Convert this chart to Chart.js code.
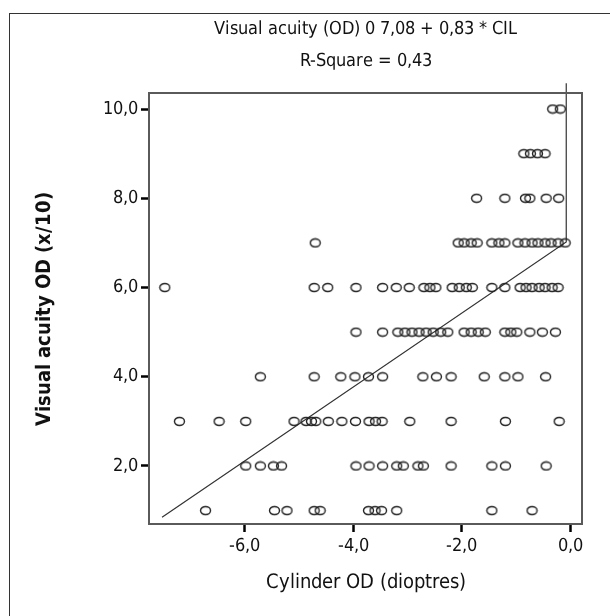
<!DOCTYPE html>
<html>
<head>
<meta charset="utf-8">
<script src="https://cdn.jsdelivr.net/npm/chart.js@4.4.1/dist/chart.umd.min.js"></script>
<style>
  @font-face {
    font-family: "CondSans";
    font-weight: 400;
    src: local("Liberation Sans Narrow"), local("LiberationSansNarrow"), local("LiberationSansNarrow-Regular"),
         local("DejaVu Sans Condensed"), local("DejaVuSansCondensed");
  }
  @font-face {
    font-family: "CondSans";
    font-weight: 700;
    src: local("Liberation Sans Narrow Bold"), local("LiberationSansNarrow-Bold"),
         local("DejaVu Sans Condensed Bold"), local("DejaVuSansCondensed-Bold");
  }
  html, body { margin: 0; padding: 0; background: #fff; }
  #wrap { position: relative; width: 610px; height: 616px; }
  #probe { position: absolute; left: -999px; font-family: CondSans; }
</style>
</head>
<body>
<div id="wrap"><canvas id="myChart" width="610" height="616"></canvas></div>
<span id="probe">a<b>b</b></span>
<script>
// visual acuity levels (x/10) and the cylinder values read for each level
const levels = [1, 2, 3, 4, 5, 6, 7, 8, 9, 10];
const cyl1 = [-6.72, -5.45, -5.22, -4.72, -4.61, -3.72, -3.6, -3.48, -3.2, -1.45, -0.71];
const cyl2 = [-5.98, -5.71, -5.47, -5.32, -3.95, -3.71, -3.46, -3.2, -3.08, -2.81, -2.71, -2.2, -1.45, -1.2, -0.45];
const cyl3 = [-7.2, -6.47, -5.98, -5.09, -4.87, -4.77, -4.69, -4.46, -4.21, -3.96, -3.71, -3.59, -3.47, -2.96, -2.2, -1.2, -0.21];
const cyl4 = [-5.71, -4.72, -4.23, -3.97, -3.72, -3.46, -2.72, -2.47, -2.2, -1.59, -1.21, -0.97, -0.46];
const cyl5 = [-3.95, -3.46, -3.18, -3.05, -2.92, -2.79, -2.66, -2.53, -2.39, -2.26, -1.96, -1.83, -1.7, -1.57, -1.21, -1.1, -0.99, -0.75, -0.52, -0.28];
const cyl6 = [-7.47, -4.72, -4.47, -3.95, -3.46, -3.21, -2.97, -2.7, -2.59, -2.48, -2.18, -2.05, -1.92, -1.81, -1.45, -1.21, -0.93, -0.82, -0.71, -0.58, -0.47, -0.34, -0.23];
const cyl7 = [-4.7, -2.07, -1.96, -1.83, -1.72, -1.45, -1.32, -1.21, -0.97, -0.84, -0.71, -0.6, -0.47, -0.36, -0.23, -0.1];
const cyl8 = [-1.73, -1.21, -0.83, -0.75, -0.45, -0.22];
const cyl9 = [-0.86, -0.74, -0.61, -0.47];
const cyl10 = [-0.33, -0.19];
const cylByLevel = [cyl1, cyl2, cyl3, cyl4, cyl5, cyl6, cyl7, cyl8, cyl9, cyl10];

// fit line as drawn (with the label leader going up at the right)
const fitX = [-7.52, -0.08, -0.08];
const fitY = [0.85, 7.02, 10.58];

const xTicks = [-6, -4, -2, 0];
const yTicks = [2, 4, 6, 8, 10];

const titleLines = ["Visual acuity (OD) 0 7,08 + 0,83 * CIL", "R-Square = 0,43"];

const FONT = "CondSans, 'Liberation Sans', sans-serif";
Chart.defaults.font.family = FONT;
Chart.defaults.color = "#111";

const points = [];
cylByLevel.forEach((arr, i) => {
  arr.forEach((x) => points.push({ x: x, y: levels[i] }));
});
const fitPoints = fitX.map((x, i) => ({ x: x, y: fitY[i] }));

// open ellipse marker like the SPSS output
const dot = document.createElement("canvas");
dot.width = 13;
dot.height = 11;
const g = dot.getContext("2d");
g.strokeStyle = "#222";
g.lineWidth = 1.4;
g.beginPath();
g.ellipse(6.5, 5.5, 5, 4, 0, 0, Math.PI * 2);
g.stroke();

const comma = (v) => v.toFixed(1).replace(".", ",");

const framePlugin = {
  id: "frame",
  beforeDraw(chart) {
    const ctx = chart.ctx;
    ctx.save();
    ctx.strokeStyle = "#333";
    ctx.lineWidth = 1;
    ctx.strokeRect(9.5, 13.5, 640, 640);
    ctx.restore();
  },
  afterDatasetsDraw(chart) {
    const { ctx, chartArea: a } = chart;
    ctx.save();
    ctx.strokeStyle = "#5a5a5a";
    ctx.lineWidth = 2;
    ctx.beginPath();
    ctx.moveTo(a.left, a.top);
    ctx.lineTo(a.right, a.top);
    ctx.lineTo(a.right, a.bottom);
    ctx.stroke();
    ctx.restore();
  },
  afterDraw(chart) {
    const { ctx, chartArea: a } = chart;
    ctx.save();
    ctx.fillStyle = "#111";
    ctx.font = "18px " + FONT;
    ctx.textAlign = "center";
    ctx.textBaseline = "middle";
    const cx = (a.left + a.right) / 2;
    ctx.fillText(titleLines[0], cx, 29);
    ctx.fillText(titleLines[1], cx, 61);
    ctx.restore();
  },
};

const config = {
  type: "scatter",
  data: {
    datasets: [
      {
        data: points,
        pointStyle: dot,
        pointRadius: 5,
        pointHoverRadius: 5,
      },
      {
        type: "line",
        data: fitPoints,
        borderColor: "#333",
        borderWidth: 1.2,
        pointRadius: 0,
        fill: false,
        clip: false,
      },
    ],
  },
  options: {
    responsive: false,
    animation: false,
    layout: {
      padding: { left: 20, right: 28, top: 93, bottom: 12 },
    },
    plugins: {
      legend: { display: false },
      tooltip: { enabled: false },
      title: { display: false },
    },
    scales: {
      x: {
        type: "linear",
        min: -7.76,
        max: 0.21,
        afterFit(scale) {
          scale.height = 80;
        },
        afterBuildTicks(scale) {
          scale.ticks = xTicks.map((v) => ({ value: v }));
        },
        border: { display: true, color: "#5a5a5a", width: 2 },
        grid: {
          drawOnChartArea: false,
          drawTicks: true,
          tickLength: 8,
          tickWidth: 2.5,
          tickColor: "#000",
        },
        ticks: {
          padding: 4,
          font: { size: 18 },
          callback: (v) => comma(v),
        },
        title: {
          display: true,
          text: "Cylinder OD (dioptres)",
          font: { size: 20 },
          padding: { top: 0, bottom: 9 },
        },
      },
      y: {
        type: "linear",
        min: 0.7,
        max: 10.36,
        afterFit(scale) {
          scale.width = 129;
        },
        afterBuildTicks(scale) {
          scale.ticks = yTicks.map((v) => ({ value: v }));
        },
        border: { display: true, color: "#5a5a5a", width: 2 },
        grid: {
          drawOnChartArea: false,
          drawTicks: true,
          tickLength: 8,
          tickWidth: 2.5,
          tickColor: "#000",
        },
        ticks: {
          padding: 3,
          font: { size: 18 },
          callback: (v) => comma(v),
        },
        title: {
          display: true,
          text: "Visual acuity OD (x/10)",
          font: { size: 20, weight: "bold" },
          padding: { top: 13, bottom: 0 },
        },
      },
    },
  },
  plugins: [framePlugin],
};

let myChart;
function draw() {
  if (!myChart) myChart = new Chart(document.getElementById("myChart"), config);
}
Promise.all([
  document.fonts.load("20px CondSans"),
  document.fonts.load("bold 20px CondSans"),
]).then(draw, draw);
setTimeout(draw, 1500);
</script>
</body>
</html>
